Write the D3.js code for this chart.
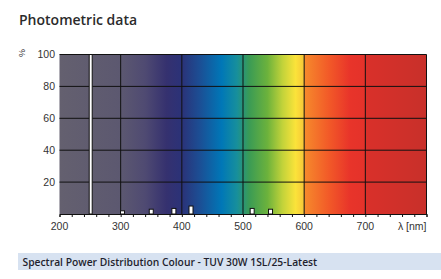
<!DOCTYPE html>
<html>
<head>
<meta charset="utf-8">
<script src="https://cdn.jsdelivr.net/npm/d3@7/dist/d3.min.js"></script>
<style>
  html, body { margin: 0; padding: 0; background: #fff; }
  svg { display: block; }
</style>
</head>
<body>
<svg id="chart" width="441" height="279"></svg>
<script>
// ---- data ----
const wavelengths = [251, 303, 350, 387, 415, 515, 545];   // nm
const powerValues = [100, 2, 3, 3.5, 5, 3.5, 3];            // %
const xTicks = [200, 300, 400, 500, 600, 700];
const xLastLabel = "λ [nm]";
const yTicks = [20, 40, 60, 80, 100];
const title = "Photometric data";
const footer = "Spectral Power Distribution Colour - TUV 30W 1SL/25-Latest";
// spectrum background colour stops (wavelength, colour)
const spectrumNm =     [200,      300,      340,      375,      400,      430,      465,      490,      510,      540,      565,      586,      599,      601,      640,      675,      699,      701,      800];
const spectrumColors = ["#64606f","#5c5870","#4f4a72","#35316f","#2b3278","#1b4f95","#0077b7","#178f9c","#3a9b55","#6cb23c","#c3d33a","#fbe33a","#f7c838","#f6892c","#f25a28","#e8342a","#e4322a","#d9302a","#c8302a"];

const svg = d3.select("#chart");
const m = {left: 59.5, right: 426.5, top: 54.5, bottom: 214};
const x = d3.scaleLinear().domain([200, 800]).range([m.left, m.right]);
const y = d3.scaleLinear().domain([0, 100]).range([m.bottom, m.top]);

// title
svg.append("text").attr("x", 19).attr("y", 25)
  .attr("font-family", "Open Sans").attr("font-size", 14).attr("font-weight", 600)
  .attr("fill", "#2b2b2b").text(title);

// gradient
const defs = svg.append("defs");
const grad = defs.append("linearGradient").attr("id", "spec")
  .attr("gradientUnits", "userSpaceOnUse")
  .attr("x1", x(200)).attr("x2", x(800)).attr("y1", 0).attr("y2", 0);
spectrumNm.forEach((nm, i) => {
  grad.append("stop").attr("offset", (nm - 200) / 600).attr("stop-color", spectrumColors[i]);
});
svg.append("rect").attr("x", x(200)).attr("y", y(100))
  .attr("width", x(800) - x(200)).attr("height", y(0) - y(100))
  .attr("fill", "url(#spec)");

// grid
const g = svg.append("g");
g.selectAll(".hg").data(yTicks).join("line")
  .attr("x1", x(200)).attr("x2", x(800))
  .attr("y1", d => y(d)).attr("y2", d => y(d))
  .attr("stroke", "#111").attr("stroke-width", 1);
g.selectAll(".vg").data(xTicks.slice(1).concat([800])).join("line")
  .attr("x1", d => x(d)).attr("x2", d => x(d))
  .attr("y1", y(0)).attr("y2", y(100))
  .attr("stroke", "#111").attr("stroke-width", 1);

// bars
const bw = [3, 4, 4, 4, 4, 4, 4];
svg.selectAll(".bar").data(wavelengths).join("rect")
  .attr("x", (d, i) => x(d) - bw[i] / 2)
  .attr("y", (d, i) => y(powerValues[i]))
  .attr("width", (d, i) => bw[i])
  .attr("height", (d, i) => y(0) - y(powerValues[i]))
  .attr("fill", "#fff").attr("stroke", "#111").attr("stroke-width", 1);

// x axis with minor ticks
const xAxis = d3.axisBottom(x).tickValues(d3.range(200, 801, 20)).tickSize(3).tickFormat("");
const xa = svg.append("g").attr("transform", `translate(0,${y(0)})`).call(xAxis);
xa.select(".domain").attr("stroke", "#111");
xa.selectAll(".tick line").attr("stroke", "#111");

const labelFont = "Liberation Sans";
svg.selectAll(".xl").data(xTicks).join("text")
  .attr("x", d => x(d)).attr("y", 230)
  .attr("text-anchor", "middle").attr("font-family", labelFont).attr("font-size", 10.5)
  .attr("fill", "#333").text(d => d);
svg.append("text").attr("x", x(800)).attr("y", 230).attr("text-anchor", "end")
  .attr("font-family", labelFont).attr("font-size", 10.5).attr("fill", "#333").text(xLastLabel);

// y labels
svg.selectAll(".yl").data(yTicks).join("text")
  .attr("x", 55).attr("y", d => y(d) + 3.8)
  .attr("text-anchor", "end").attr("font-family", labelFont).attr("font-size", 10.5)
  .attr("fill", "#333").text(d => d);
svg.append("text").attr("transform", "translate(25,53) rotate(-90)")
  .attr("text-anchor", "middle").attr("font-family", labelFont).attr("font-size", 9)
  .attr("fill", "#333").text("%");

// footer
svg.append("rect").attr("x", 18).attr("y", 253).attr("width", 423).attr("height", 17).attr("fill", "#d7e2f1");
svg.append("text").attr("x", 22.5).attr("y", 265.5)
  .attr("font-family", "Open Sans").attr("font-size", 10.3).attr("font-weight", 600)
  .attr("fill", "#1f1f2e").text(footer);
</script>
</body>
</html>
